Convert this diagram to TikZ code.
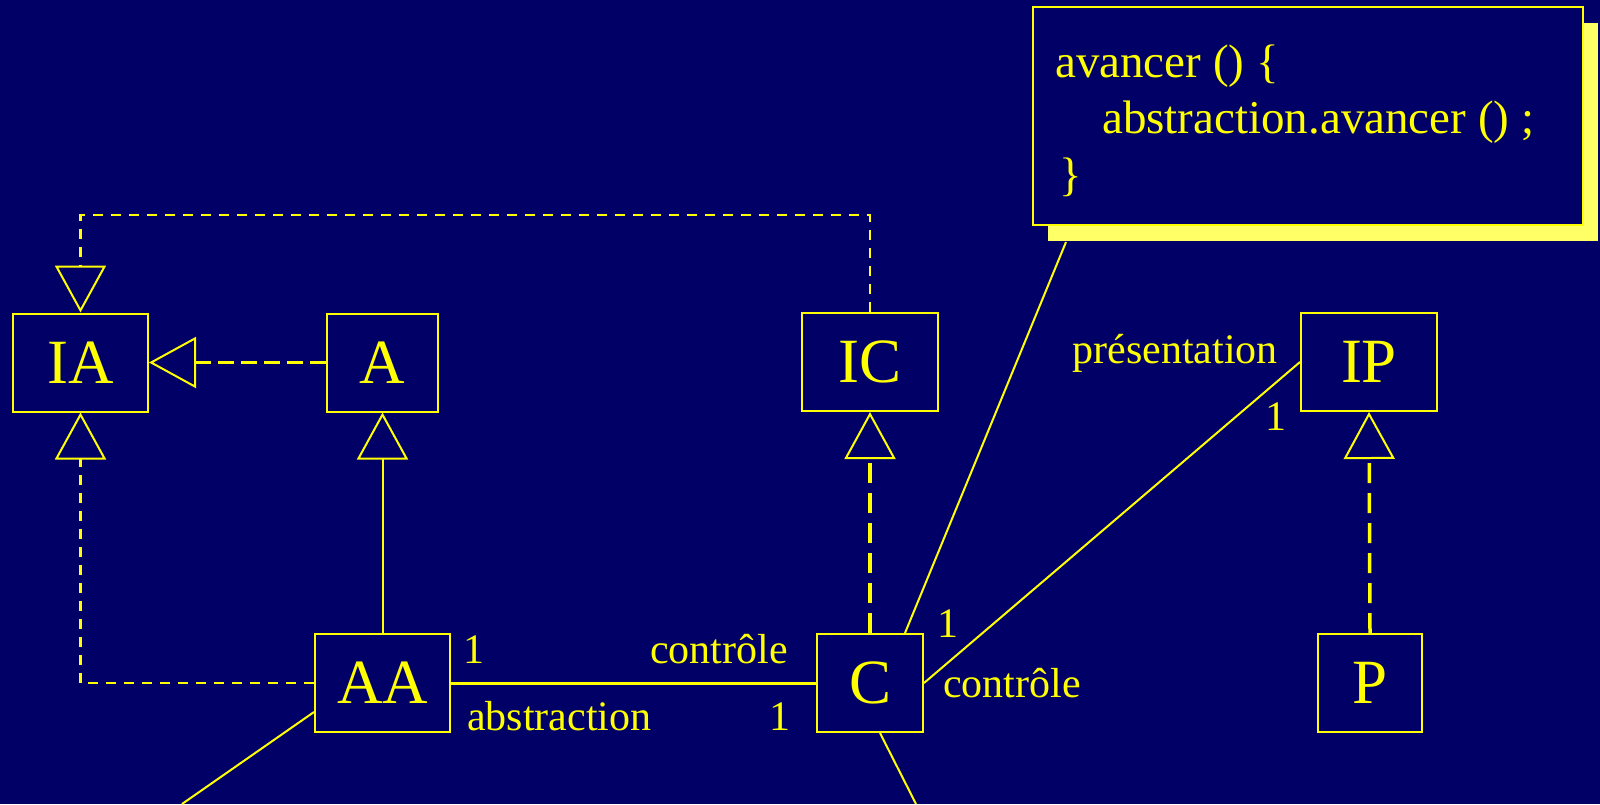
\documentclass[tikz,border=0pt]{standalone}
\usepackage{fontspec}
\setmainfont{Liberation Serif}
\usetikzlibrary{arrows.meta,shadows,calc}

\definecolor{bgnavy}{RGB}{0,0,102}
\definecolor{umlyellow}{RGB}{255,255,0}
\definecolor{shadowyellow}{RGB}{255,255,102}

\begin{document}
\begin{tikzpicture}[x=1pt,y=-1pt,
  every node/.style={text=umlyellow},
  cls/.style={draw=umlyellow, line width=2pt, fill=bgnavy, inner sep=0pt,
    minimum height=98pt, font=\fontsize{63}{70}\selectfont},
  lbl/.style={inner sep=0pt, font=\fontsize{42}{48}\selectfont},
  codeline/.style={inner sep=0pt, anchor=base west, font=\fontsize{47}{56}\selectfont},
  notebox/.style={draw=umlyellow, line width=2pt, fill=bgnavy, inner sep=0pt,
    minimum width=550pt, minimum height=218pt,
    drop shadow={shadow xshift=15pt, shadow yshift=-16pt, fill=shadowyellow, opacity=1}},
  link/.style={draw=umlyellow, line width=2pt},
  hollow/.style={-{Triangle[open, length=47pt, width=51pt, line width=2pt]}},
  thindash/.style={draw=umlyellow, line width=2.5pt, dash pattern=on 10pt off 8pt, hollow},
  middash/.style={draw=umlyellow, line width=3pt, dash pattern=on 16pt off 7pt, hollow},
  heavydash/.style={draw=umlyellow, line width=3.5pt, dash pattern=on 20pt off 10pt, hollow},
]
% canvas
\useasboundingbox (0,0) rectangle (1600,804);
\fill[bgnavy] (0,0) rectangle (1600,804);

% classes and interfaces
\node[cls, minimum width=135pt] (IA) at (80.5,362.5) {IA};
\node[cls, minimum width=111pt] (A)  at (382.5,362.5) {A};
\node[cls, minimum width=136pt] (IC) at (870,362) {IC};
\node[cls, minimum width=136pt] (IP) at (1369,362) {IP};
\node[cls, minimum width=135pt] (AA) at (382.5,683) {AA};
\node[cls, minimum width=106pt] (C)  at (870,683) {C};
\node[cls, minimum width=104pt] (P)  at (1370,683) {P};

% note attached to C
\node[notebox] (note) at (1308,116) {};
\node[codeline] (l1) at (1055,77)  {avancer () \{};
\node[codeline] (l2) at (1102,133) {abstraction.avancer () ;};
\node[codeline] (l3) at (1059,190) {\}};

% free ends of the cut associations
\coordinate (top) at (0,215);
\coordinate (aaend) at (182,804);
\coordinate (cend) at (916,804);

% realisations and inheritance
\draw[thindash] (IC.north) -- (IC.north |- top) -| (IA.north);
\draw[thindash] (AA.west) -| (IA.south);
\draw[middash] (A.west) -- (IA.east);
\draw[link, hollow] (AA.north) -- (A.south);
\draw[heavydash] (C.north) -- (IC.south);
\draw[heavydash] (P.north) -- (IP.south);

% associations
\draw[link, line width=3pt] (AA.east) -- (C.west);
\draw[link] (C.east) -- (IP.west);
\draw[link] ($(C.north)+(35,0)$) -- ($(note.south west)+(34,16)$);
\draw[link] ($(AA.south west)+(0,-21)$) -- (aaend);
\draw[link] ($(C.south)+(10,0)$) -- (cend);

% role names and multiplicities
\node[lbl, anchor=base east] (rp)  at (1278,363) {présentation};
\node[lbl, anchor=base]      (mp)  at (1276,430) {1};
\node[lbl, anchor=base]      (mc1) at (948,637)  {1};
\node[lbl, anchor=base west] (rc1) at (943,697)  {contrôle};
\node[lbl, anchor=base]      (ma)  at (473.5,663) {1};
\node[lbl, anchor=base east] (rc2) at (788,663)  {contrôle};
\node[lbl, anchor=base west] (ra)  at (467,730)  {abstraction};
\node[lbl, anchor=base]      (mc2) at (780,730)  {1};
\end{tikzpicture}
\end{document}
